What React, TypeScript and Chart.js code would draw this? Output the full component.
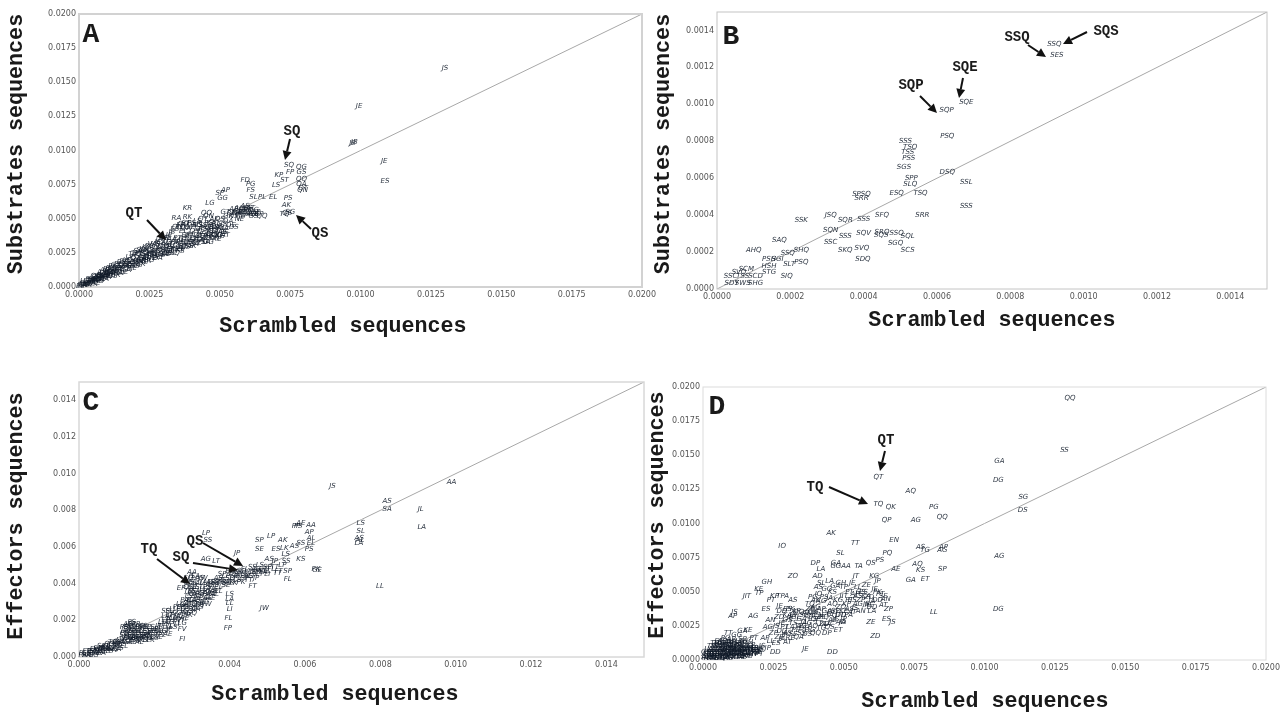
import React, { useEffect, useRef } from "react";
import { Chart, registerables } from "chart.js";

Chart.register(...registerables);

// Values of panels A, C, D are in units of 1e-4; panel B in units of 1e-6.
const aLabels = "JS JE JB JB JE ES SQ QG GS FP KP QQ ST QA LS QT QN PS AK QS SG TQ EL PL SL FS FD PG AP SP GG LG KR RA RK QQ AE AG AS AT AL AA PP PA PE PT PK GE GT GK EE EA ES ET EK LL LE LA LP TT TA TE TP SS SA SE SP KK KA KE KS RR RE RG VA VE VS IA IE DA DE DS NS NA NE".split(" ");
const aXBase = [130, 99.5, 97.2, 97.8, 108.4, 108.7, 74.6, 79, 79, 75, 71, 79, 73, 79, 70, 79.6, 79.4, 74.3, 73.7, 74, 75, 73, 69, 65, 62, 61, 59, 61, 52, 50, 51, 46.5, 38.5, 34.6, 38.5, 45.3,
  55, 57, 59, 61, 63, 60, 58, 56, 54, 57, 60, 62, 52, 53,
  0.5, 1, 1.5, 2, 2, 2.5, 3, 3, 3.5, 4, 4, 4.5, 5, 5, 5.5, 6, 6, 6.5, 7, 7, 7.5, 8, 8, 8.5, 9, 9, 9.5, 10, 10, 10.5, 11, 11, 11.5, 12, 12, 13, 13, 14, 14, 15, 15, 16, 16, 17, 17, 18, 18, 19, 19, 20, 20, 21, 21, 22, 22, 23, 23, 24, 24, 25, 25, 26, 26, 27, 27, 28, 28, 29, 29, 30, 30, 31, 31, 32, 32, 33, 33, 34, 34, 35, 35, 36, 36, 37, 37, 38, 38, 39, 39, 40, 40, 41, 41, 42, 42, 43, 43, 44, 44, 45, 45, 46, 46, 47, 47, 48, 48, 49, 49, 50, 50,
  51, 52, 52, 53, 54, 55, 55, 56, 57, 57, 58, 58, 59, 60, 60, 61, 62, 62, 63, 64, 65,
  38, 40, 42, 44, 46, 46, 48, 50, 42, 36, 37, 47, 33, 36, 31, 27, 24, 22, 24];
const aYBase = [160.4, 132.8, 105.7, 106.2, 92.3, 77.7, 89, 87.6, 84, 84, 82, 79, 78, 75.4, 74.4, 72.4, 71, 65, 60, 54, 54.6, 53, 66, 66, 66, 71, 78.5, 75.6, 70.7, 69, 65, 61.5, 57.8, 50.2, 51.2, 54.1,
  57, 58, 59.5, 58, 54, 54, 55, 55, 54, 52.5, 56, 53, 55, 52,
  0.5, 1, 2, 1, 3, 2, 2, 4, 3, 3, 5, 4, 4, 6, 5, 5, 7, 6, 6, 8, 8, 7, 9, 7.5, 8, 10, 9, 9, 11, 10, 10, 12, 11, 11, 13, 12, 14, 12, 14, 13, 15, 14, 16, 15, 17, 15, 18, 17, 20, 18, 21, 19, 23, 20, 24, 21, 25, 22, 26, 23, 27, 24, 25, 26, 28, 24, 29, 27, 31, 26, 30, 28, 33, 29, 31, 30, 35, 28, 33, 31, 36, 33, 29, 35, 31, 38, 34, 30, 37, 33, 39, 36, 31, 38, 42, 34, 40, 37, 45, 33, 39, 42, 36, 47, 41, 38, 44, 35, 46, 42, 39,
  46, 43, 40, 48, 45, 44, 52, 54, 50, 56, 55, 52, 57, 54, 58, 53, 56, 52, 55, 53, 52,
  47, 45, 48, 50, 52, 47, 50, 50, 45, 44, 41, 44, 25, 26, 24, 23, 21, 20, 24];
const aXMore = [2, 3, 4, 5, 6, 6, 7, 8, 8, 9, 9, 10, 10, 11, 11, 12, 12, 13, 13, 14, 14, 15, 15, 16, 16, 17, 17, 18, 18, 19, 19, 20, 20, 21, 21, 22, 22, 23, 23, 24, 24, 25, 25, 26, 26, 27, 27, 28, 28, 29, 29, 30, 30, 31, 31, 32, 32, 33, 33, 34, 34, 35, 35, 36, 36, 37, 37, 38, 38, 39, 39, 40, 40, 41, 41, 42, 42, 43, 43, 44, 44, 45, 45, 46, 46, 47, 48, 48, 49, 49, 50, 50, 51, 52];
const aYMore = [4, 1, 6, 2, 8, 3, 4, 11, 5, 12, 6, 13, 7, 14, 8, 15, 8, 16, 9, 17, 10, 18, 10, 19, 11, 20, 12, 22, 13, 24, 14, 25, 15, 26, 16, 27, 17, 28, 18, 29, 19, 30, 20, 31, 21, 31, 22, 33, 21, 35, 23, 36, 24, 36, 25, 38, 26, 40, 27, 42, 25, 44, 28, 45, 27, 46, 30, 43, 29, 44, 33, 47, 30, 41, 34, 35, 32, 46, 37, 42, 33, 43, 36, 38, 33, 39, 36, 41, 43, 38, 44, 37, 40, 38];

const bLabels = "SQE SQP PSQ SSS TSQ TSS PSS SGS DSQ SPP SLQ SSL ESQ TSQ SPSQ SRR SRR SSS SFQ SSK JSQ SQR SSS SQN SSS SQV SSC SKQ SVQ SDQ SRQ SQS SSQ SQL SGQ SCS SAQ AHQ SSQ SHQ SGI PSH HSH STG SLT PSQ SIQ SCM SSC TSS SCD SDY SWS SHG SVQ SES SSQ SQS".split(" ");
const bX = [680, 626, 628, 514, 527, 520, 523, 510, 628, 530, 527, 680, 490, 555, 394, 394, 560, 680, 450, 230, 310, 350, 400, 310, 350, 400, 310, 350, 395, 398, 450, 448, 490, 520, 487, 520, 170, 100, 193, 230, 165, 142, 142, 142, 197, 230, 190, 80, 37, 70, 105, 40, 70, 105, 60, 927, 920];
const bY = [1010, 970, 830, 800, 770, 740, 710, 660, 630, 600, 570, 580, 520, 520, 513, 490, 400, 450, 400, 375, 400, 375, 380, 320, 285, 300, 252, 210, 222, 164, 310, 294, 300, 285, 250, 210, 267, 210, 195, 210, 162, 162, 122, 90, 132, 146, 72, 105, 72, 72, 72, 29, 29, 29, 90, 1264, 1327];

const cLabels = "JS AA AS SA JL LA LS SL AS AL LA LL JW PP PS AE AA AP AL SS EL AS PS SP SE LP AK ES LK AS LS KS PK GE SP FL TT FT LP SS JP AG LT LS LA LL LI FL FP FI FV LG AE EP PA SK GS AT TS QS SQ TQ KA KE".split(" ");
const cXBase = [67.3, 98.9, 81.8, 81.8, 90.7, 91, 74.8, 74.8, 74.4, 74.6, 74.3, 79.9, 49.2,
  57.6, 58.2, 58.9, 61.6, 61.1, 61.6, 58.9, 61.6, 57.2, 61.1, 47.9, 47.9, 51, 54.1, 52.3, 54.5, 50.5, 54.9, 58.9, 62.9, 63.2, 55.4, 55.4, 52.7, 46.1, 33.7, 34.2, 42, 33.7, 36.4,
  40, 40, 40, 40, 39.7, 39.5, 27.4, 27.4, 27.4, 23.6, 27.1,
  1, 2, 2, 3, 3, 4, 4, 5, 5, 6, 6, 7, 7, 8, 8, 9, 9, 10, 10, 11, 11, 12, 12, 12, 12, 13, 13, 13, 13, 14, 14, 14, 14, 15, 15, 15, 16, 16, 16, 17, 17, 17, 18, 18, 18, 19, 19, 20, 20, 21, 21, 22, 22, 23, 23, 24, 24, 24, 25, 25, 26, 26, 27, 27, 28, 28, 29, 29, 29, 29, 29, 30, 30, 30, 30, 30, 31, 31, 31, 31, 32, 32, 32, 32, 33, 33, 33, 34, 34, 34, 35, 35, 36, 36, 37, 37, 38, 38, 39, 39, 40, 40, 41, 41, 42, 42, 43, 43, 44, 44, 45, 45, 46, 46, 47, 47, 48, 48, 49, 50, 50];
const cYBase = [92.9, 95.6, 85.1, 80.6, 80.6, 70.6, 73, 68.4, 65, 63.5, 62, 38.7, 26.8,
  71.4, 71.6, 72.9, 72.1, 68.1, 65, 62.3, 61.9, 60.5, 58.7, 63.8, 58.7, 65.9, 63.8, 58.7, 59.6, 53.2, 55.9, 53.2, 47.7, 47.2, 46.8, 42.3, 45.9, 38.6, 67.8, 63.6, 56.8, 53.2, 52.3,
  34.1, 31.3, 29.5, 25.9, 21.3, 15.8, 9.5, 14.9, 18.6, 12.2, 37.7,
  1, 1, 2, 1, 3, 2, 3, 3, 4, 3, 5, 4, 5, 4, 6, 5, 7, 6, 8, 7, 9, 6, 10, 13, 16, 8, 11, 14, 17, 9, 12, 15, 19, 10, 13, 16, 9, 12, 15, 11, 14, 17, 10, 13, 16, 11, 14, 12, 15, 13, 17, 14, 19, 18, 22, 17, 21, 25, 19, 23, 20, 24, 22, 27, 24, 28, 25, 29, 33, 38, 43, 26, 31, 36, 41, 46, 28, 33, 38, 44, 27, 30, 35, 40, 32, 37, 43, 31, 36, 41, 34, 39, 36, 41, 38, 43, 40, 45, 39, 44, 41, 47, 40, 45, 42, 46, 41, 47, 43, 48, 42, 46, 44, 49, 43, 48, 45, 50, 46, 47, 45];
const cXMore = [1, 2, 3, 4, 4, 5, 5, 6, 6, 7, 7, 8, 8, 9, 9, 10, 10, 11, 11, 12, 12, 12, 13, 13, 13, 13, 14, 14, 14, 14, 14, 15, 15, 15, 15, 16, 16, 16, 16, 17, 17, 17, 18, 18, 18, 19, 19, 19, 20, 20, 21, 21, 22, 22, 23, 23, 23, 24, 24, 24, 25, 25, 25, 26, 26, 26, 27, 27, 27, 28, 28, 28, 29, 29, 29, 29, 29, 30, 30, 30, 30, 30, 31, 31, 31, 31, 32, 32, 32, 32, 33, 33, 33, 34, 34, 34, 35, 35, 35, 36, 36, 37, 37, 38, 39, 40, 41, 42, 43, 44, 45, 46, 47, 48, 49, 50, 51, 52, 53, 54, 55, 52];
const cYMore = [2, 3, 2, 4, 1, 2, 5, 2, 6, 3, 6, 3, 7, 4, 8, 4, 7, 5, 8, 8, 12, 15, 10, 13, 16, 18, 8, 11, 13, 16, 18, 9, 11, 14, 18, 8, 11, 14, 17, 9, 12, 16, 9, 12, 14, 9, 13, 16, 10, 14, 11, 15, 12, 17, 14, 20, 25, 15, 19, 23, 16, 21, 26, 18, 22, 27, 20, 25, 29, 21, 26, 31, 23, 27, 31, 36, 41, 24, 29, 34, 38, 44, 26, 31, 36, 41, 29, 33, 38, 43, 30, 35, 40, 29, 34, 38, 32, 37, 41, 34, 39, 36, 41, 42, 41, 43, 43, 44, 45, 45, 44, 46, 46, 47, 48, 49, 48, 49, 47, 50, 52, 52];

const dLabels = "QQ SS GA DG SG DS AG DG QT TQ AQ QK PG QQ QP AG AK TT EN IO AS TG AP AG SL PQ PS DP AA GA GG TA QS LA AE AQ KS SP GA ET JT KG AD ZO GH KE JIT TP KP TPA AS PT ES JE JS AP AG LL AN ZP ES JS ZE ZD JA DD JE DD JP PT AT AS GS KA RE LA PK SE TS PE GL QA TL".split(" ");
const dXBase = [130.4, 128.4, 105.3, 104.9, 113.8, 113.6, 105.3, 104.9,
  62.3, 62.3, 73.8, 66.7, 82, 85, 65.2, 75.6, 45.5, 54.1, 67.9, 28.1, 77.3, 78.9, 85.4, 85, 48.8, 65.5, 62.8, 39.9, 50.8, 47.2, 47.2, 55.3, 59.6, 41.9, 68.5, 76.2, 77.3, 85, 73.8, 78.9, 54.3, 60.8, 40.7, 31.9, 22.7, 19.8, 15.6, 20, 25.4, 28.3, 31.9, 24.2, 22.4, 27.2, 11.2, 10.6, 17.9, 82, 64.9, 65.9, 65.2, 67.3, 59.6, 61.2, 49.6, 46, 36.4, 25.7, 23,
  1, 1, 2, 2, 3, 3, 3, 4, 4, 4, 5, 5, 5, 5, 6, 6, 6, 6, 7, 7, 7, 7, 8, 8, 8, 8, 8, 9, 9, 9, 9, 9, 10, 10, 10, 10, 10, 11, 11, 11, 12, 12, 12, 12, 12, 13, 13, 13, 13, 14, 14, 14, 14, 15, 15, 15, 16, 16, 16, 16, 17, 17, 17, 18, 18, 18, 19, 20, 21,
  22, 23, 24, 24, 25, 26, 26, 27, 27, 28, 28, 28, 28, 29, 29, 30, 30, 30, 30, 31, 31, 31, 32, 32, 33, 33, 34, 34, 34, 35, 35, 36, 36, 37, 37, 38, 38, 38, 39, 39, 39, 40, 40, 40, 40, 41, 41, 41, 41, 42, 42, 42, 42, 43, 43, 44, 44, 44, 44, 45, 45, 45, 46, 46, 46, 47, 47, 48, 48, 48, 49, 49, 49, 50, 50, 50, 51, 51, 52, 52, 53, 53, 54, 54, 55, 55, 56, 56, 57, 58, 58, 59, 60, 60, 61, 62, 62, 63, 64];
const dYBase = [192, 153.6, 146, 131.5, 119.4, 109.5, 75.8, 37.4,
  134, 114.4, 124, 112, 112, 104.6, 102.2, 102.2, 92.9, 85.6, 88, 83.1, 82.6, 80.7, 82.4, 80.7, 78.2, 78.2, 73.3, 70.9, 68.5, 70.9, 68.5, 68.5, 70.9, 66.5, 66.5, 70.4, 66, 66.5, 58.7, 59.2, 61.1, 61.1, 61.1, 61.1, 56.7, 51.8, 46.5, 48.9, 46.9, 46.5, 44, 44, 37.2, 39.6, 34.7, 32.3, 32.3, 34.7, 44.5, 37.2, 29.8, 27.4, 27.4, 17.8, 27.4, 5.6, 7.8, 5.6, 8.6,
  1, 4, 2, 6, 1, 4, 8, 2, 6, 10, 1, 4, 8, 12, 3, 6, 10, 14, 2, 5, 8, 12, 1, 4, 7, 10, 16, 3, 6, 9, 13, 20, 2, 5, 8, 11, 15, 4, 7, 10, 3, 6, 9, 13, 18, 2, 5, 8, 11, 4, 7, 15, 21, 3, 6, 9, 5, 8, 13, 22, 4, 7, 11, 6, 9, 16, 7, 6, 10,
  16, 24, 14, 29, 20, 12, 25, 17, 31, 15, 21, 27, 36, 18, 24, 13, 20, 29, 33, 16, 24, 37, 19, 27, 22, 31, 17, 25, 35, 20, 30, 23, 33, 19, 27, 22, 32, 41, 25, 35, 46, 20, 30, 39, 44, 27, 33, 48, 53, 23, 37, 43, 56, 31, 46, 20, 26, 36, 52, 33, 24, 58, 29, 41, 50, 36, 54, 22, 33, 44, 28, 39, 56, 36, 47, 53, 41, 33, 37, 50, 44, 56, 38, 48, 41, 53, 36, 44, 50, 41, 55, 46, 43, 39, 52, 44, 58, 48, 40];
const dXMore = [1, 1, 2, 2, 2, 3, 3, 3, 4, 4, 4, 4, 5, 5, 5, 6, 6, 6, 6, 7, 7, 7, 7, 8, 8, 8, 8, 9, 9, 9, 9, 10, 10, 10, 10, 11, 11, 11, 11, 12, 12, 12, 13, 13, 13, 13, 14, 14, 14, 14, 15, 15, 15, 16, 16, 16, 17, 17, 18, 18, 19, 19, 20, 20,
  30, 31, 32, 33, 35, 36, 37, 38, 39, 40, 42, 43, 45, 46, 47, 49, 50, 52, 53, 55, 56, 58, 59, 60, 62, 64];
const dYMore = [2, 6, 1, 4, 8, 2, 6, 10, 1, 4, 8, 12, 2, 6, 10, 1, 4, 8, 12, 3, 6, 10, 14, 2, 6, 9, 12, 1, 4, 8, 11, 3, 6, 9, 13, 2, 5, 8, 12, 4, 7, 11, 3, 6, 10, 14, 2, 5, 9, 12, 4, 8, 12, 3, 7, 10, 5, 9, 4, 7, 5, 9, 8, 4,
  37, 31, 33, 36, 25, 28, 34, 37, 30, 35, 31, 26, 45, 35, 30, 33, 30, 44, 35, 47, 50, 47, 40, 36, 50, 47];

const xAxisTitle = "Scrambled sequences";

type Arrow = [number, number, number, number];
type Note = [string, number, number];

interface Panel {
  letter: string; letterAt: [number, number];
  labels: string[]; xs: number[]; ys: number[]; unit: number;
  maxV: number; stepV: number; digits: number;
  canvas: [number, number, number, number];
  plot: [number, number, number, number];
  yTitle: string; yTitleAt: [number, number]; xTitleAt: [number, number];
  notes: Note[]; arrows: Arrow[]; spine: string; spineW: number;
}

const panels: Panel[] = [
  {
    letter: "A", letterAt: [91, 35], labels: aLabels, xs: aXBase.concat(aXMore), ys: aYBase.concat(aYMore), unit: 1e-4,
    maxV: 0.02, stepV: 0.0025, digits: 4,
    canvas: [0, 0, 668, 345], plot: [79, 14, 642, 287],
    yTitle: "Substrates sequences", yTitleAt: [17, 144], xTitleAt: [343, 327],
    notes: [["SQ", 292, 131], ["QT", 134, 213], ["QS", 320, 233]],
    arrows: [[290, 139, 285, 160], [147, 220, 166, 240], [311, 229, 296, 215]],
    spine: "#d2d2d2", spineW: 2,
  },
  {
    letter: "B", letterAt: [731, 37], labels: bLabels, xs: bX, ys: bY, unit: 1e-6,
    maxV: 0.0015, stepV: 0.0002, digits: 4,
    canvas: [640, 0, 647, 345], plot: [717, 12, 1267, 289],
    yTitle: "Substrates sequences", yTitleAt: [664, 144], xTitleAt: [992, 321],
    notes: [["SQP", 911, 85], ["SQE", 965, 67], ["SSQ", 1017, 37], ["SQS", 1106, 31]],
    arrows: [[920, 96, 937, 113], [963, 78, 959, 98], [1028, 45, 1046, 57], [1087, 32, 1063, 44]],
    spine: "#c4c4c4", spineW: 1,
  },
  {
    letter: "C", letterAt: [91, 403], labels: cLabels, xs: cXBase.concat(cXMore), ys: cYBase.concat(cYMore), unit: 1e-4,
    maxV: 0.015, stepV: 0.002, digits: 3,
    canvas: [0, 360, 668, 352], plot: [79, 382, 644, 657],
    yTitle: "Effectors sequences", yTitleAt: [17, 516], xTitleAt: [335, 695],
    notes: [["TQ", 149, 549], ["SQ", 181, 557], ["QS", 195, 541]],
    arrows: [[157, 559, 190, 584], [193, 563, 238, 570], [203, 543, 243, 566]],
    spine: "#d8d8d8", spineW: 1.5,
  },
  {
    letter: "D", letterAt: [717, 407], labels: dLabels, xs: dXBase.concat(dXMore), ys: dYBase.concat(dYMore), unit: 1e-4,
    maxV: 0.02, stepV: 0.0025, digits: 4,
    canvas: [640, 360, 647, 352], plot: [703, 387, 1266, 660],
    yTitle: "Effectors sequences", yTitleAt: [658, 515], xTitleAt: [985, 702],
    notes: [["QT", 886, 440], ["TQ", 815, 487]],
    arrows: [[885, 451, 880, 471], [829, 487, 868, 504]],
    spine: "#dcdcdc", spineW: 1,
  },
];

const MONO = '"Liberation Mono", "DejaVu Sans Mono", monospace';

function drawArrow(ctx: CanvasRenderingContext2D, a: Arrow) {
  const [x1, y1, x2, y2] = a;
  const ang = Math.atan2(y2 - y1, x2 - x1);
  const head = 9;
  const hw = 4.5;
  const bx = x2 - head * Math.cos(ang);
  const by = y2 - head * Math.sin(ang);
  ctx.strokeStyle = "#111";
  ctx.lineWidth = 2;
  ctx.beginPath();
  ctx.moveTo(x1, y1);
  ctx.lineTo(bx, by);
  ctx.stroke();
  ctx.fillStyle = "#111";
  ctx.beginPath();
  ctx.moveTo(x2, y2);
  ctx.lineTo(bx - hw * Math.sin(ang), by + hw * Math.cos(ang));
  ctx.lineTo(bx + hw * Math.sin(ang), by - hw * Math.cos(ang));
  ctx.closePath();
  ctx.fill();
}

function panelPlugin(p: Panel) {
  return {
    id: "panelMarks" + p.letter,
    afterDatasetsDraw(chart: any) {
      const ctx: CanvasRenderingContext2D = chart.ctx;
      const area = chart.chartArea;
      ctx.save();
      ctx.strokeStyle = p.spine;
      ctx.lineWidth = p.spineW;
      ctx.strokeRect(area.left, area.top, area.right - area.left, area.bottom - area.top);

      ctx.font = 'italic 7px "DejaVu Sans", sans-serif';
      ctx.textAlign = "center";
      ctx.textBaseline = "middle";
      ctx.fillStyle = "rgba(15,25,40,0.9)";
      chart.getDatasetMeta(0).data.forEach((el: any, i: number) => {
        ctx.fillText(p.labels[i % p.labels.length], el.x, el.y);
      });

      ctx.translate(-p.canvas[0], -p.canvas[1]);
      p.arrows.forEach((a) => drawArrow(ctx, a));

      ctx.fillStyle = "#1a1a1a";
      ctx.font = `bold 14px ${MONO}`;
      p.notes.forEach(([t, x, y]) => ctx.fillText(t, x, y));

      ctx.font = `bold 28px ${MONO}`;
      ctx.fillText(p.letter, p.letterAt[0], p.letterAt[1]);

      ctx.font = `bold 21.7px ${MONO}`;
      ctx.fillText(xAxisTitle, p.xTitleAt[0], p.xTitleAt[1]);
      ctx.save();
      ctx.translate(p.yTitleAt[0], p.yTitleAt[1]);
      ctx.rotate(-Math.PI / 2);
      ctx.fillText(p.yTitle, 0, 0);
      ctx.restore();
      ctx.restore();
    },
  };
}

function PanelChart({ panel }: { panel: Panel }) {
  const ref = useRef<HTMLCanvasElement | null>(null);
  useEffect(() => {
    if (!ref.current) return;
    const [cl, ct, cw, ch] = panel.canvas;
    const [pl, pt, pr, pb] = panel.plot;
    const tickFont = { size: 8, family: '"DejaVu Sans", sans-serif' };
    const fmt = (v: any) => Number(v).toFixed(panel.digits);
    const chart = new Chart(ref.current, {
      type: "scatter",
      data: {
        datasets: [
          {
            label: "sequences",
            data: panel.xs.map((x, i) => ({ x: x * panel.unit, y: panel.ys[i] * panel.unit })),
            pointRadius: 0,
            showLine: false,
          },
          {
            label: "y = x",
            data: [{ x: 0, y: 0 }, { x: panel.maxV, y: panel.maxV }],
            showLine: true,
            pointRadius: 0,
            borderColor: "#a8a8a8",
            borderWidth: 1,
          },
        ],
      },
      options: {
        animation: false,
        responsive: false,
        devicePixelRatio: 1,
        layout: { padding: { left: 0, top: pt - ct, right: cl + cw - pr, bottom: 0 } },
        plugins: { legend: { display: false }, tooltip: { enabled: false } },
        scales: {
          x: {
            type: "linear",
            min: 0,
            max: panel.maxV,
            grid: { display: false, drawTicks: false },
            border: { display: false },
            ticks: {
              stepSize: panel.stepV,
              includeBounds: false,
              autoSkip: false,
              maxRotation: 0,
              padding: 3,
              color: "#555",
              font: tickFont,
              callback: fmt,
            },
            afterFit: (s: any) => { s.height = ct + ch - pb; },
          },
          y: {
            type: "linear",
            min: 0,
            max: panel.maxV,
            grid: { display: false, drawTicks: false },
            border: { display: false },
            ticks: {
              stepSize: panel.stepV,
              includeBounds: false,
              autoSkip: false,
              padding: 3,
              color: "#555",
              font: tickFont,
              callback: fmt,
            },
            afterFit: (s: any) => { s.width = pl - cl; },
          },
        },
      },
      plugins: [panelPlugin(panel)],
    } as any);
    return () => chart.destroy();
  }, [panel]);
  const [l, t, w, h] = panel.canvas;
  return (
    <canvas
      ref={ref}
      width={w}
      height={h}
      style={{ position: "absolute", left: l, top: t, width: w, height: h, filter: "blur(0.45px)" }}
    />
  );
}

export default function App() {
  return (
    <div style={{ position: "absolute", left: 0, top: 0, width: 1287, height: 712, overflow: "hidden", background: "#fff" }}>
      {panels.map((p) => (
        <PanelChart key={p.letter} panel={p} />
      ))}
    </div>
  );
}
